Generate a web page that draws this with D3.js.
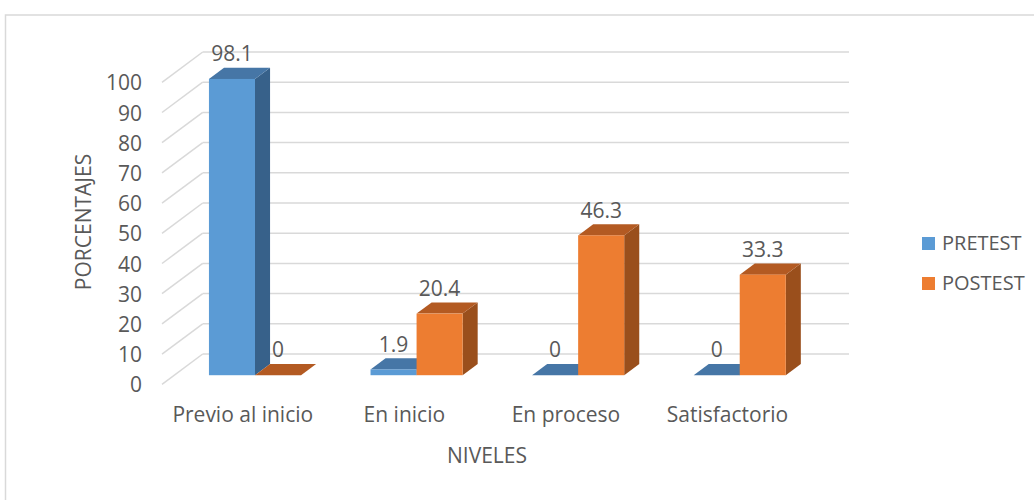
<!DOCTYPE html>
<html>
<head>
<meta charset="utf-8">
<script src="https://cdn.jsdelivr.net/npm/d3@7"></script>
<style>
  html, body { margin: 0; padding: 0; background: #ffffff; }
  svg { display: block; }
  text { font-family: "Open Sans", "Noto Sans", sans-serif; fill: #595959; }
</style>
</head>
<body>
<svg id="chart" width="1034" height="500"></svg>
<script>
// Niveles de logro: PRETEST vs POSTEST (%)
const categories = ["Previo al inicio", "En inicio", "En proceso", "Satisfactorio"];
const seriesNames = ["PRETEST", "POSTEST"];
const pretest = [98.1, 1.9, 0, 0];
const postest = [0, 20.4, 46.3, 33.3];
const yTicks = [0, 10, 20, 30, 40, 50, 60, 70, 80, 90, 100];

const svg = d3.select("#chart");

// Plot frame (front plane) and oblique depth offset of the 3D floor
const front = { left: 162, right: 808.3, bottom: 384.3, top: 82.3 };
const depth = { dx: 40.7, dy: -30.3 };
const barZ0 = 0.30, barZ1 = 0.67;   // bar depth, as fractions of the floor depth

const colors = {
  PRETEST: { front: "#5b9bd5", top: "#4676a6", side: "#37618a" },
  POSTEST: { front: "#ed7d31", top: "#b35a22", side: "#9a4f1c" }
};

const x = d3.scaleBand().domain(categories)
  .range([front.left, front.right]).paddingInner(0.43).paddingOuter(0.215);
const xs = d3.scaleBand().domain(seriesNames).range([0, x.bandwidth()]);
const y = d3.scaleLinear().domain([0, 100]).range([front.bottom, front.top]);

// Outer chart border
svg.append("rect")
  .attr("x", 5.5).attr("y", 15).attr("width", 1100).attr("height", 600)
  .attr("fill", "none").attr("stroke", "#d9d9d9").attr("stroke-width", 1.5);

// Gridlines: back wall horizontals and side wall diagonals
const grid = svg.append("g").attr("stroke", "#d9d9d9").attr("stroke-width", 1.5).attr("fill", "none");
yTicks.forEach(t => {
  const yf = y(t), yb = y(t) + depth.dy;
  grid.append("line")
    .attr("x1", front.left + depth.dx).attr("y1", yb)
    .attr("x2", front.right + depth.dx).attr("y2", yb);
  grid.append("line")
    .attr("x1", front.left).attr("y1", yf)
    .attr("x2", front.left + depth.dx).attr("y2", yb);
});

// Y axis tick labels via d3 axis (domain and ticks hidden)
const yAxis = svg.append("g")
  .attr("transform", `translate(${front.left - 20},0)`)
  .call(d3.axisLeft(y).tickValues(yTicks).tickSize(0).tickPadding(0));
yAxis.select(".domain").remove();
yAxis.selectAll("text")
  .attr("font-size", 21).attr("fill", "#595959")
  .attr("font-family", "'Open Sans', sans-serif")
  .attr("dy", "0.36em");

// Bars
const data = [];
categories.forEach((c, i) => {
  data.push({ cat: c, series: "PRETEST", value: pretest[i] });
  data.push({ cat: c, series: "POSTEST", value: postest[i] });
});

const bars = svg.append("g");
data.forEach(d => {
  const bx = x(d.cat) + xs(d.series) + barZ0 * depth.dx;
  const w = xs.bandwidth();
  const yt = y(d.value) + barZ0 * depth.dy;
  const yb = y(0) + barZ0 * depth.dy;
  const ddx = (barZ1 - barZ0) * depth.dx, ddy = (barZ1 - barZ0) * depth.dy;
  const col = colors[d.series];
  const g = bars.append("g");
  // side face
  g.append("polygon")
    .attr("points", [[bx + w, yt], [bx + w + ddx, yt + ddy], [bx + w + ddx, yb + ddy], [bx + w, yb]].join(" "))
    .attr("fill", col.side);
  // top face
  g.append("polygon")
    .attr("points", [[bx, yt], [bx + w, yt], [bx + w + ddx, yt + ddy], [bx + ddx, yt + ddy]].join(" "))
    .attr("fill", col.top);
  // front face
  if (yb - yt > 0) {
    g.append("rect")
      .attr("x", bx).attr("y", yt).attr("width", w).attr("height", yb - yt)
      .attr("fill", col.front);
  }
  // value label
  g.append("text")
    .attr("x", bx + w / 2).attr("y", yt + ddy - 6.5)
    .attr("text-anchor", "middle").attr("font-size", 21)
    .text(d.value);
});

// Category labels
svg.append("g").selectAll("text").data(categories).join("text")
  .attr("x", d => x(d) + x.bandwidth() / 2)
  .attr("y", 421.5)
  .attr("text-anchor", "middle").attr("font-size", 21)
  .text(d => d);

// Axis titles
svg.append("text")
  .attr("x", 487).attr("y", 463)
  .attr("text-anchor", "middle").attr("font-size", 21)
  .text("NIVELES");
svg.append("text")
  .attr("transform", "translate(91,222) rotate(-90)")
  .attr("text-anchor", "middle").attr("font-size", 21)
  .text("PORCENTAJES");

// Legend
const legend = svg.append("g");
seriesNames.forEach((s, i) => {
  legend.append("rect")
    .attr("x", 922).attr("y", 237 + i * 40).attr("width", 13).attr("height", 13)
    .attr("fill", colors[s].front);
  legend.append("text")
    .attr("x", 942).attr("y", 250 + i * 40)
    .attr("font-size", 20)
    .text(s);
});
</script>
</body>
</html>
